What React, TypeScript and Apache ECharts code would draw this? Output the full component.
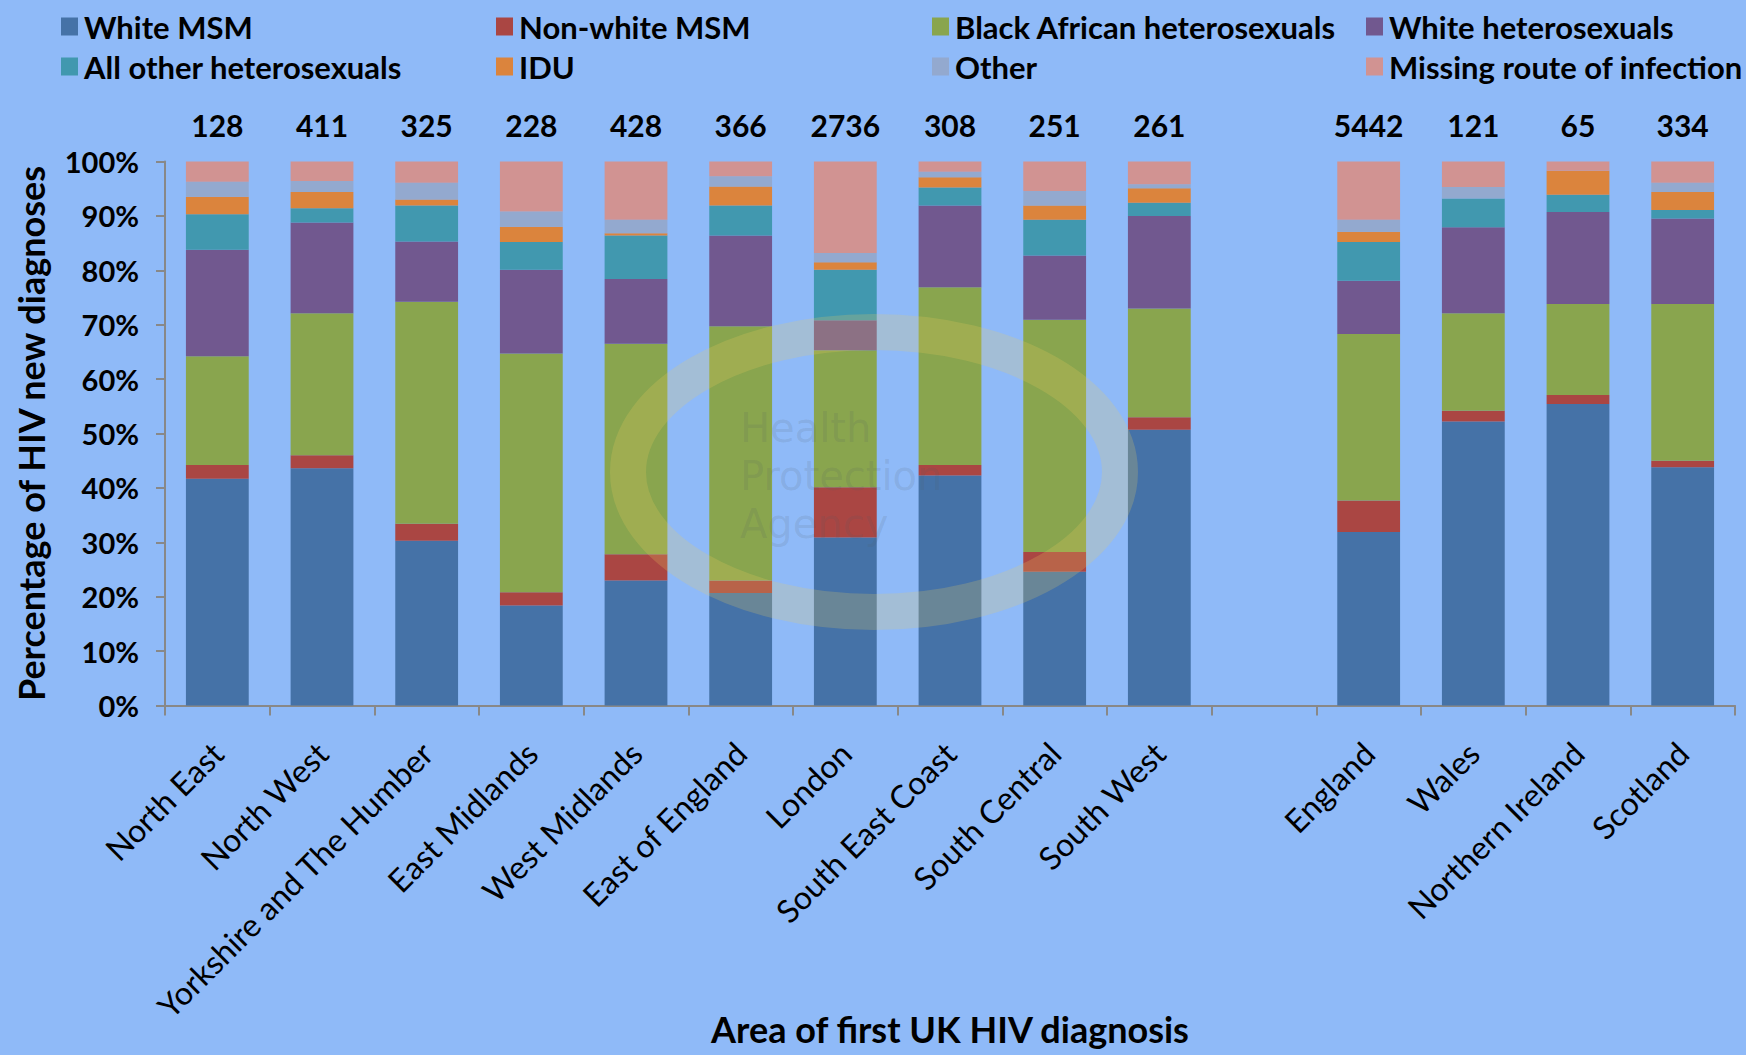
import React, { useEffect, useRef } from "react";
import * as echarts from "echarts";

const categories = [
  "North East", "North West", "Yorkshire and The Humber", "East Midlands", "West Midlands",
  "East of England", "London", "South East Coast", "South Central", "South West", "",
  "England", "Wales", "Northern Ireland", "Scotland",
];
const counts = ["128", "411", "325", "228", "428", "366", "2736", "308", "251", "261", "", "5442", "121", "65", "334"];

const whiteMSM = [41.7, 43.6, 30.3, 18.4, 23.0, 20.7, 30.9, 42.3, 24.6, 50.7, null, 31.9, 52.2, 55.4, 43.8];
const nonWhiteMSM = [2.5, 2.4, 3.1, 2.4, 4.8, 2.3, 9.2, 1.9, 3.6, 2.3, null, 5.8, 2.0, 1.7, 1.2];
const blackAfrican = [20.0, 26.1, 40.8, 43.9, 38.7, 46.7, 25.2, 32.7, 42.7, 20.0, null, 30.6, 17.9, 16.7, 28.8];
const whiteHetero = [19.6, 16.7, 11.1, 15.4, 11.9, 16.7, 5.5, 15.0, 11.8, 17.0, null, 9.8, 15.8, 16.9, 15.7];
const otherHetero = [6.5, 2.6, 6.6, 5.1, 8.0, 5.5, 9.3, 3.3, 6.6, 2.4, null, 7.1, 5.3, 3.2, 1.6];
const idu = [3.2, 3.0, 1.1, 2.8, 0.4, 3.5, 1.4, 1.9, 2.6, 2.7, null, 1.9, 0, 4.4, 3.3];
const other = [2.8, 2.0, 3.1, 2.8, 2.5, 1.9, 1.7, 1.0, 2.7, 0.7, null, 2.2, 2.1, 0, 1.7];
const missing = [3.7, 3.6, 3.9, 9.2, 10.7, 2.7, 16.8, 1.9, 5.4, 4.2, null, 10.7, 4.7, 1.7, 3.9];

const seriesDefs = [
  { name: "White MSM", data: whiteMSM, color: "#4572A7" },
  { name: "Non-white MSM", data: nonWhiteMSM, color: "#AA4643" },
  { name: "Black African heterosexuals", data: blackAfrican, color: "#89A54E" },
  { name: "White heterosexuals", data: whiteHetero, color: "#71588F" },
  { name: "All other heterosexuals", data: otherHetero, color: "#4198AF" },
  { name: "IDU", data: idu, color: "#DB843D" },
  { name: "Other", data: other, color: "#93A9CF" },
  { name: "Missing route of infection", data: missing, color: "#D19392" },
];

const watermarkLines = ["Health", "Protection", "Agency"];

const FONT = "Lato";

export default function App() {
  const ref = useRef<HTMLDivElement>(null);
  useEffect(() => {
    if (!ref.current) return;
    const chart = echarts.init(ref.current, null, { renderer: "svg" });
    const legendCols = [56, 491, 927, 1361];
    const legendRows = [6, 46];
    const legends = seriesDefs.map((s, i) => ({
      data: [s.name],
      left: legendCols[i % 4],
      top: legendRows[Math.floor(i / 4)],
      icon: "rect",
      itemWidth: 17,
      itemHeight: 18,
      itemGap: 0,
      selectedMode: false,
      textStyle: { fontFamily: FONT, fontSize: 31, fontWeight: "bold", color: "#000", padding: [0, 0, 0, 1] },
    }));
    chart.setOption({
      animation: false,
      backgroundColor: "#8FBAF8",
      legend: legends,
      grid: { left: 165, right: 11, top: 161.5, bottom: 349.5, containLabel: false, outerBoundsMode: "none" },
      xAxis: [
        {
          type: "category",
          data: categories,
          position: "bottom",
          axisLine: { lineStyle: { color: "#888", width: 2 } },
          axisTick: { show: true, length: 10, lineStyle: { color: "#888", width: 2 }, alignWithLabel: false, interval: 0 },
          axisLabel: { interval: 0, rotate: 45, margin: 42, fontFamily: FONT, fontSize: 32, color: "#000" },
          name: "Area of first UK HIV diagnosis",
          nameLocation: "middle",
          nameGap: 305,
          nameMoveOverlap: false,
          nameTextStyle: { fontFamily: FONT, fontSize: 36, fontWeight: "bold", color: "#000" },
        },
        {
          type: "category",
          data: counts,
          position: "top",
          axisLine: { show: false },
          axisTick: { show: false },
          axisLabel: { interval: 0, margin: 22, fontFamily: FONT, fontSize: 30, fontWeight: "bold", color: "#000" },
        },
      ],
      yAxis: {
        type: "value",
        min: 0,
        max: 100,
        interval: 10,
        splitLine: { show: false },
        axisLine: { show: true, lineStyle: { color: "#888", width: 2 } },
        axisTick: { show: true, length: 9, lineStyle: { color: "#888", width: 2 } },
        axisLabel: { formatter: "{value}%", margin: 26, fontFamily: FONT, fontSize: 29, fontWeight: "bold", color: "#000" },
        name: "Percentage of HIV new diagnoses",
        nameLocation: "middle",
        nameGap: 116,
        nameMoveOverlap: false,
        nameTextStyle: { fontFamily: FONT, fontSize: 36, fontWeight: "bold", color: "#000" },
      },
      series: seriesDefs.map((s) => ({
        name: s.name,
        type: "bar",
        stack: "total",
        data: s.data,
        barWidth: "60%",
        itemStyle: { color: s.color },
        xAxisIndex: 0,
      })),
      graphic: [
        {
          type: "ellipse",
          shape: { cx: 874, cy: 472, rx: 246, ry: 140 },
          style: { fill: "none", stroke: "rgba(235,205,95,0.22)", lineWidth: 36 },
          z: 100,
          silent: true,
        },
        ...watermarkLines.map((t, i) => ({
          type: "text",
          left: 740,
          top: 408 + i * 48,
          style: {
            text: t,
            fontFamily: "DejaVu Sans",
            fontSize: 40,
            fill: "rgba(80,90,100,0.15)",
          },
          z: 101,
          silent: true,
        })),
      ],
    });
    return () => chart.dispose();
  }, []);
  return (
    <div
      ref={ref}
      style={{ position: "fixed", left: 0, top: 0, width: 1746, height: 1055 }}
    />
  );
}
